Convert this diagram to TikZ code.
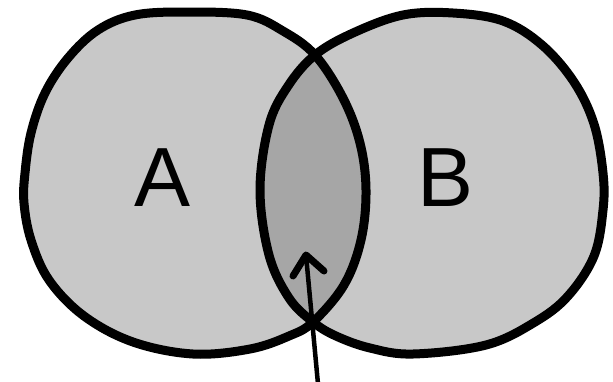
\documentclass[tikz,border=0pt]{standalone}
\usepackage{fontspec}
\setmainfont{Liberation Sans}
\definecolor{outerfill}{RGB}{200,200,200}
\definecolor{lensfill}{RGB}{166,166,166}
\begin{document}
\begin{tikzpicture}[x=1pt,y=-1pt,
  outline/.style={line width=9pt,line join=round,draw=black},
  pointer/.style={line width=4.5pt,line cap=round,draw=black},
  pointerhead/.style={line width=7pt,line cap=round,line join=round,draw=black},
  setlabel/.style={font=\fontsize{84}{84}\selectfont,inner sep=0pt}]
\useasboundingbox (0,0) rectangle (613,381);
\def\pathA{plot[smooth cycle,tension=0.6] coordinates {(187,12) (247,15) (283,31) (315,55) (343,98) (360,143) (366,190) (361,240) (344,285) (313,322) (289,336) (250,349) (193,354) (133,342) (84,316) (49,280) (31,240) (24,203) (25,173) (31,133) (45,93) (68,58) (98,30) (135,15)}}
\def\pathB{plot[smooth cycle,tension=0.6] coordinates {(453,13) (503,21) (542,45) (574,82) (594,124) (603,173) (603,210) (594,256) (568,296) (535,322) (486,345) (413,354) (370,348) (336,336) (313,322) (289,298) (269,255) (260,190) (269,125) (288,86) (315,55) (353,33) (403,15)}}
\fill[outerfill] \pathA;
\fill[outerfill] \pathB;
\begin{scope}
  \clip \pathA;
  \fill[lensfill] \pathB;
\end{scope}
\draw[outline] \pathA;
\draw[outline] \pathB;
\node[setlabel] (A) at (163,178) {A};
\node[setlabel] (B) at (446,178) {B};
\coordinate (tail) at (318,384);
\coordinate (tip) at (306,255);
\coordinate (barbL) at (293,276);
\coordinate (barbR) at (324,271);
\draw[pointer] (tail) -- (tip);
\draw[pointerhead] (barbL) -- (tip) -- (barbR);
\end{tikzpicture}
\end{document}
